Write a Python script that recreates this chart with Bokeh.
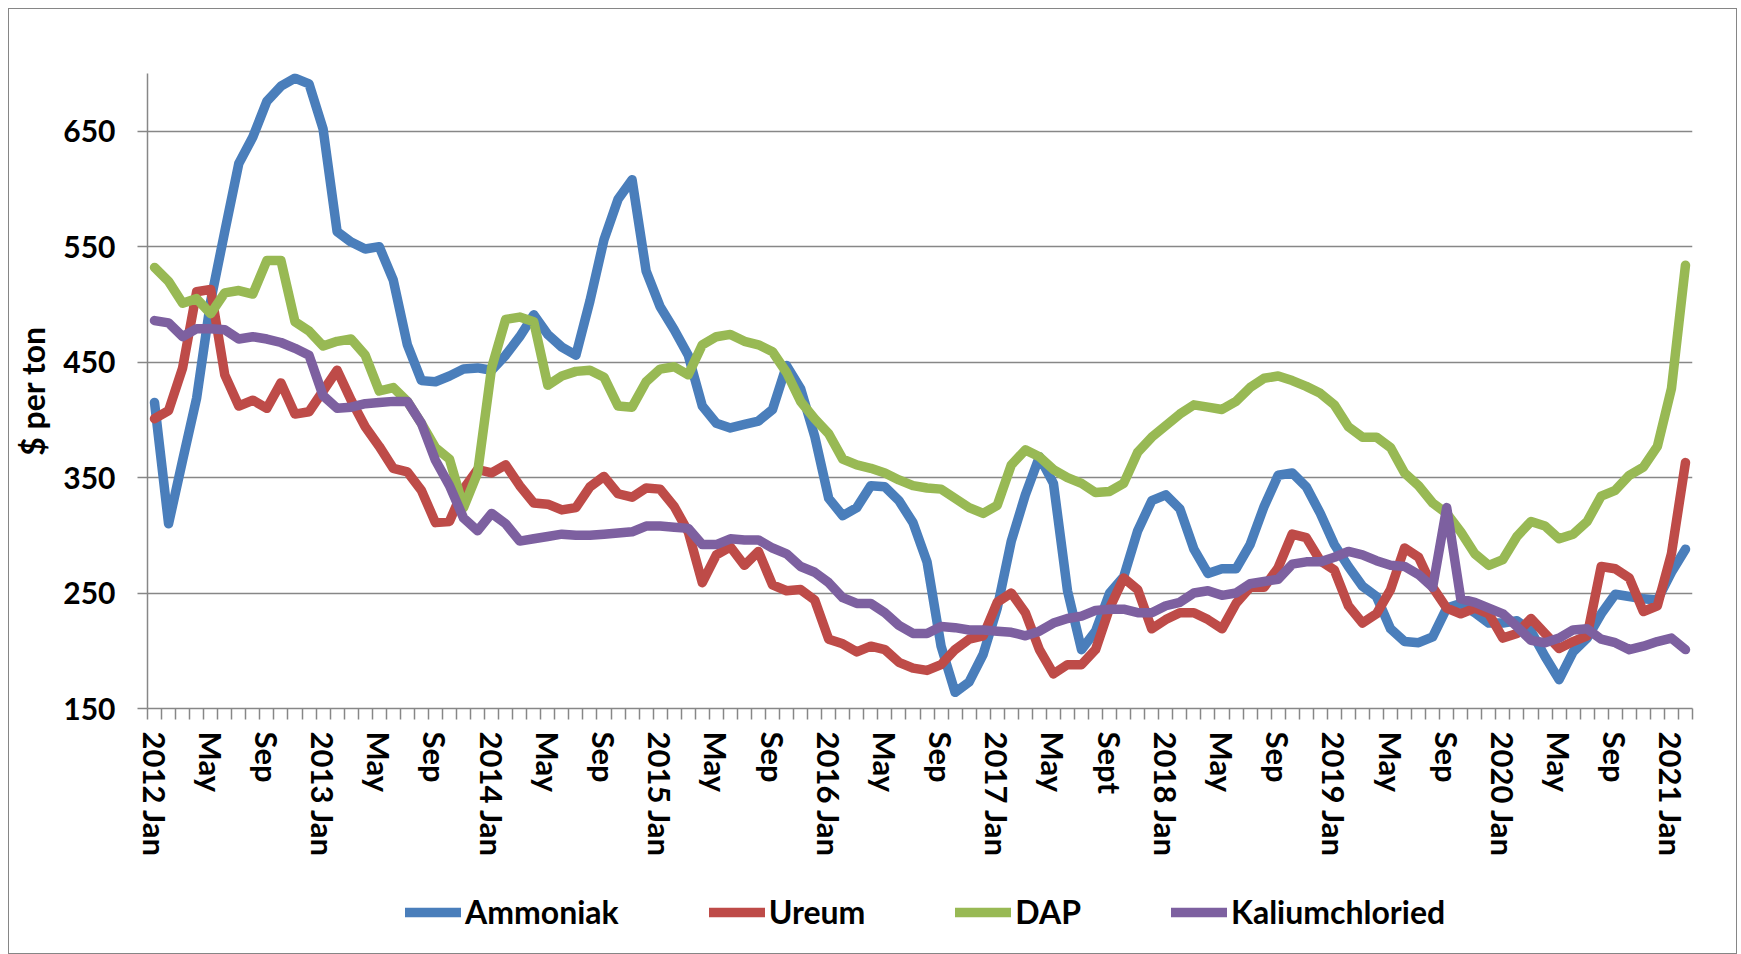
from bokeh.plotting import figure
from bokeh.layouts import column
from bokeh.models import FixedTicker, Legend, LegendItem, ColumnDataSource
from bokeh.embed import file_html
from bokeh.resources import INLINE

months = list(range(110))  # 2012 Jan .. 2021 Feb

ammoniak = [415, 310, 365, 419, 503, 563, 622, 645, 676, 689, 696, 691, 652, 563, 554, 548,
            550, 521, 465, 434, 433, 438, 444, 445, 443, 456, 472, 491, 474, 463, 456, 503,
            556, 591, 608, 529, 498, 478, 456, 412, 397, 393, 396, 399, 409, 447, 427, 386,
            332, 317, 324, 343, 342, 330, 311, 277, 204, 164, 173, 197, 237, 295, 335, 368,
            345, 252, 201, 217, 250, 264, 304, 330, 335, 323, 288, 267, 271, 271, 292, 325,
            352, 354, 342, 319, 292, 273, 256, 247, 219, 208, 207, 212, 237, 241, 233, 224,
            224, 226, 217, 195, 175, 199, 211, 232, 249, 247, 245, 244, 268, 288]

ureum = [401, 408, 445, 511, 513, 439, 412, 417, 410, 432, 405, 407, 425, 443, 417, 394,
         377, 358, 355, 339, 311, 312, 340, 357, 354, 361, 343, 328, 327, 322, 324, 342,
         351, 336, 333, 341, 340, 325, 303, 259, 283, 290, 274, 286, 257, 252, 253, 244,
         210, 206, 199, 204, 201, 190, 185, 183, 188, 201, 210, 213, 242, 250, 233, 201,
         180, 188, 188, 201, 237, 263, 253, 219, 227, 233, 233, 227, 219, 241, 255, 255,
         272, 301, 298, 278, 270, 239, 224, 232, 253, 289, 281, 255, 237, 232, 237, 232,
         211, 215, 228, 215, 202, 208, 213, 273, 271, 263, 234, 239, 284, 363]

dap = [532, 520, 501, 505, 492, 510, 512, 509, 538, 538, 485, 477, 464, 468, 470, 456,
       425, 428, 416, 397, 376, 366, 324, 354, 445, 487, 489, 485, 430, 438, 442, 443,
       437, 412, 411, 433, 444, 446, 439, 465, 472, 474, 468, 465, 459, 441, 416, 401,
       388, 366, 361, 358, 354, 348, 343, 341, 340, 332, 324, 319, 326, 361, 374, 368,
       357, 350, 345, 337, 338, 345, 372, 385, 395, 405, 413, 411, 409, 416, 428, 436,
       438, 434, 429, 423, 413, 394, 385, 385, 376, 354, 343, 328, 319, 303, 284, 274,
       279, 299, 312, 308, 297, 301, 312, 334, 339, 352, 359, 377, 427, 534]

kalium = [486, 484, 472, 479, 479, 478, 470, 472, 470, 467, 462, 456, 421, 410, 411, 414,
          415, 416, 416, 397, 365, 343, 315, 304, 319, 310, 295, 297, 299, 301, 300, 300,
          301, 302, 303, 308, 308, 307, 306, 292, 292, 297, 296, 296, 289, 284, 273, 268,
          259, 246, 241, 241, 233, 222, 215, 215, 221, 220, 218, 218, 217, 216, 213, 217,
          224, 228, 230, 235, 236, 236, 233, 233, 239, 242, 250, 252, 248, 250, 258, 260,
          262, 275, 277, 277, 281, 286, 283, 278, 274, 273, 266, 255, 324, 245, 242, 237,
          232, 221, 209, 207, 211, 218, 219, 210, 207, 201, 204, 208, 211, 201]

tick_positions = list(range(0, 110, 4))
tick_labels = ["2012 Jan", "May", "Sep", "2013 Jan", "May", "Sep", "2014 Jan", "May", "Sep",
               "2015 Jan", "May", "Sep", "2016 Jan", "May", "Sep", "2017 Jan", "May", "Sept",
               "2018 Jan", "May", "Sep", "2019 Jan", "May", "Sep", "2020 Jan", "May", "Sep",
               "2021 Jan"]
y_ticks = [150, 250, 350, 450, 550, 650]

series = [("Ammoniak", ammoniak, "#4A7EBB"),
          ("Ureum", ureum, "#BE4B48"),
          ("DAP", dap, "#98B954"),
          ("Kaliumchloried", kalium, "#7D60A0")]

FONT = "Lato"
GRID = "#878787"
LW = 9.5

p = figure(frame_width=1545, frame_height=635, output_backend="svg", toolbar_location=None,
           x_range=(-0.5, 109.5), y_range=(150, 700),
           min_border_left=138, min_border_right=44, min_border_top=64, min_border_bottom=157)
p.outline_line_color = None
p.background_fill_color = "white"
p.border_fill_color = "white"

src = ColumnDataSource(dict(x=months, a=ammoniak, u=ureum, d=dap, k=kalium))
for (name, vals, col), key in zip(series, ["a", "u", "d", "k"]):
    p.line("x", key, source=src, line_color=col, line_width=LW,
           line_join="round", line_cap="round")

# x axis
xa = p.xaxis[0]
xa.ticker = FixedTicker(ticks=tick_positions,
                        minor_ticks=[i - 0.5 for i in range(111)])
xa.major_label_overrides = {pos: lab for pos, lab in zip(tick_positions, tick_labels)}
xa.major_label_orientation = "vertical"
xa.major_tick_out = 0
xa.major_tick_in = 0
xa.minor_tick_out = 11
xa.minor_tick_in = 0
xa.minor_tick_line_color = GRID
xa.minor_tick_line_width = 1.5
xa.axis_line_color = GRID
xa.axis_line_width = 1.5
xa.major_label_standoff = 12
xa.major_label_text_font = FONT
xa.major_label_text_font_style = "bold"
xa.major_label_text_font_size = "31px"
xa.major_label_text_color = "black"

# y axis
ya = p.yaxis[0]
ya.ticker = FixedTicker(ticks=y_ticks)
ya.minor_tick_line_color = None
ya.major_tick_out = 10
ya.major_tick_in = 0
ya.major_tick_line_color = GRID
ya.major_tick_line_width = 1.5
ya.axis_line_color = GRID
ya.axis_line_width = 1.5
ya.major_label_standoff = 22
ya.major_label_text_font = FONT
ya.major_label_text_font_style = "bold"
ya.major_label_text_font_size = "30px"
ya.major_label_text_color = "black"
ya.axis_label = "$ per ton"
ya.axis_label_text_font = FONT
ya.axis_label_text_font_style = "bold"
ya.axis_label_text_font_size = "32px"
ya.axis_label_text_color = "black"
ya.axis_label_standoff = 8

p.xgrid.grid_line_color = None
p.ygrid.ticker = FixedTicker(ticks=y_ticks)
p.ygrid.grid_line_color = GRID
p.ygrid.grid_line_width = 1.5

# legend row (separate figure so the legend is not clipped by the data frame)
lf = figure(frame_width=1727, frame_height=88, output_backend="svg", toolbar_location=None,
            x_range=(0, 1), y_range=(0, 1), x_axis_type=None, y_axis_type=None,
            min_border_left=0, min_border_right=0, min_border_top=0, min_border_bottom=0)
lf.outline_line_color = None
lf.grid.visible = False
lf.background_fill_color = "white"
lf.border_fill_color = "white"
items = []
for name, vals, col in series:
    r = lf.line(x=[-5, -4], y=[-5, -5], line_color=col, line_width=LW,
                line_join="round", line_cap="round")
    items.append(LegendItem(label=name, renderers=[r]))
legend = Legend(items=items, orientation="horizontal", location=(396, 22),
                glyph_width=56, glyph_height=36, label_height=36, label_standoff=4,
                spacing=90, padding=0, margin=0, border_line_color=None,
                background_fill_alpha=0,
                label_text_font=FONT, label_text_font_style="bold",
                label_text_font_size="32px", label_text_color="black")
lf.add_layout(legend, "center")

layout = column(p, lf, spacing=0,
                styles={"border": "1px solid #868686", "margin": "8px 0 0 8px"})

open("out.html", "w").write(file_html(layout, INLINE))
